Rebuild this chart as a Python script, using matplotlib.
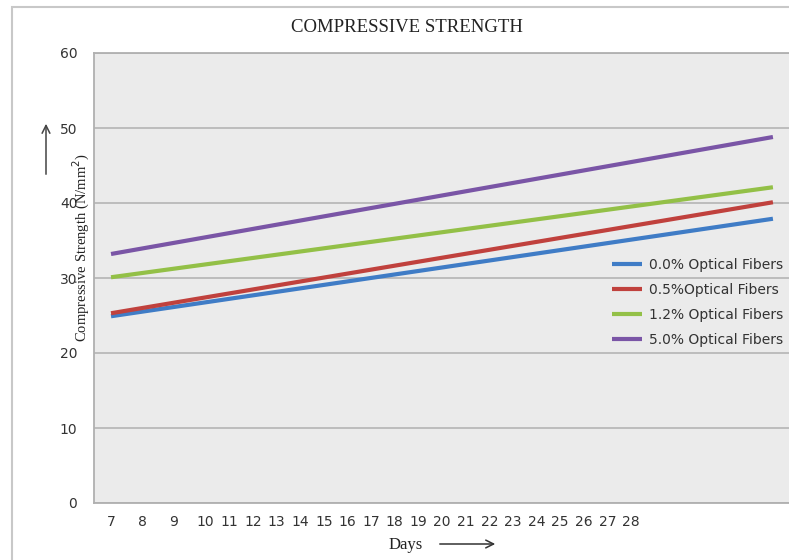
import matplotlib
matplotlib.use("Agg")
import matplotlib.pyplot as plt
from matplotlib.patches import Rectangle, FancyArrowPatch

# Curing age (days) and compressive strength (N/mm²) for each fibre content
days = [7, 28]
fiber_0_0 = [24.9, 37.9]
fiber_0_5 = [25.3, 40.1]
fiber_1_2 = [30.1, 42.1]
fiber_5_0 = [33.2, 48.8]

series_labels = ["0.0% Optical Fibers", "0.5%Optical Fibers",
                 "1.2% Optical Fibers", "5.0% Optical Fibers"]
series_colors = ["#3f7cc6", "#c0413d", "#93c047", "#7a55a6"]

day_tick_labels = [str(d) for d in range(7, 29)]
y_ticks = [0, 10, 20, 30, 40, 50, 60]

W, H = 789, 560
fig = plt.figure(figsize=(W / 100, H / 100), dpi=100)
fig.patch.set_facecolor("white")


def fx(px):
    return px / W


def fy(py):
    return 1 - py / H


# chart frame
fig.patches.append(Rectangle((fx(12), fy(575)), fx(800), fy(7) - fy(575),
                             transform=fig.transFigure, fill=False,
                             edgecolor="#c8c8c8", linewidth=1.5))

ax = fig.add_axes([fx(94), fy(503), fx(789) - fx(94), fy(53) - fy(503)])
ax.set_facecolor("#ebebeb")

for vals, lab, col in zip([fiber_0_0, fiber_0_5, fiber_1_2, fiber_5_0],
                          series_labels, series_colors):
    ax.plot(days, vals, color=col, linewidth=3.0, label=lab,
            solid_capstyle="butt")

# axis ranges
ax.set_ylim(0, 60)
ax.set_xlim(6.46, 28.51)
ax.set_yticks(y_ticks)
ax.grid(axis="y", color="#b9b9b9", linewidth=1.3)
ax.set_axisbelow(True)

# day labels: the first three sit on their own days, the rest are packed closer
first = day_tick_labels[:3]
rest = day_tick_labels[3:]
tick_pos = [7 + i for i in range(len(first))] + [10 + 0.75 * i for i in range(len(rest))]
ax.set_xticks(tick_pos)
ax.set_xticklabels(day_tick_labels)

ax.tick_params(axis="both", length=0, labelsize=10, labelcolor="#333333")
ax.tick_params(axis="y", pad=12)
ax.tick_params(axis="x", pad=9)
for lbl in ax.get_xticklabels() + ax.get_yticklabels():
    lbl.set_fontfamily("DejaVu Sans")

for side in ["left", "top", "bottom"]:
    ax.spines[side].set_color("#b0b0b0")
    ax.spines[side].set_linewidth(1.3)
ax.spines["right"].set_visible(False)

leg = ax.legend(loc="upper left", bbox_to_anchor=(fx(612), fy(258)),
                bbox_transform=fig.transFigure, frameon=False,
                prop={"family": "DejaVu Sans", "size": 10},
                handlelength=2.15, handletextpad=0.5, labelspacing=0.8,
                borderaxespad=0, borderpad=0)
for t in leg.get_texts():
    t.set_color("#333333")

fig.text(fx(407), fy(27), "COMPRESSIVE STRENGTH", ha="center", va="center",
         family="Liberation Serif", fontsize=13.5, color="#222222")

fig.text(fx(81), fy(248), "Compressive Strength (N/mm$^2$)", rotation=90,
         ha="center", va="center", family="Liberation Serif", fontsize=10.5,
         color="#222222")

fig.text(fx(406), fy(545), "Days", ha="center", va="center",
         family="Liberation Serif", fontsize=12, color="#222222")

# direction arrows
fig.add_artist(FancyArrowPatch(
    (fx(437), fy(544)), (fx(498), fy(544)), transform=fig.transFigure,
    arrowstyle="->", mutation_scale=14, linewidth=1.1, color="#333333"))
fig.add_artist(FancyArrowPatch(
    (fx(46), fy(177)), (fx(46), fy(121)), transform=fig.transFigure,
    arrowstyle="->", mutation_scale=14, linewidth=1.1, color="#444444"))

fig.savefig("out.png", dpi=100)
